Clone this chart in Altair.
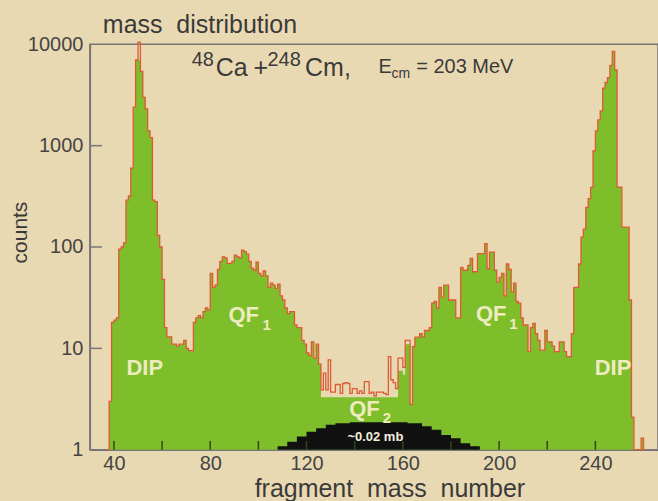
import altair as alt
import pandas as pd

# ---------------- data ----------------
mass_start = 37  # first 1-u bin (left edge)
counts = [
    1, 3, 18, 19, 20, 95, 100, 110, 290, 320,            # 37-46
    600, 2400, 7000, 10500, 5400, 3000, 2300, 1400, 1200, 290,  # 47-56
    280, 130, 100, 48, 16, 13, 13, 11, 11, 10.5,         # 57-66
    11, 11, 12, 10, 9.5, 9.5, 18, 20, 21, 20,            # 67-76
    23, 25, 24, 55, 40, 42, 60, 72, 80, 78,              # 77-86
    69, 69, 72, 83, 80, 78, 93, 90, 85, 72,              # 87-96
    62, 59, 71, 55, 52, 58, 52, 40, 44, 42,              # 97-106
    39, 43, 33, 30, 25, 22, 23, 23, 17, 16,              # 107-116
    16, 12, 11, 9, 8.5, 11.6, 8, 11, 7, 3.9,             # 117-126
    5.7, 3.9, 7.7, 3.7, 3.7, 4.4, 4.4, 3.6, 4.5, 4.6,    # 127-136
    4.5, 3.6, 4.0, 4.0, 3.6, 3.8, 3.6, 4.7, 4.7, 3.6,    # 137-146
    3.7, 3.4, 3.7, 3.7, 3.7, 3.6, 3.5, 8.3, 4.9, 4.6,    # 147-156
    4.0, 8.0, 8.0, 6.5, 12, 12, 2.8, 10.4, 12.9, 12.9,   # 157-166
    14, 13, 15, 15, 16, 28, 29, 25, 40, 32,              # 167-176
    42, 42, 30, 30, 30, 20, 20, 63, 59, 59,              # 177-186
    66, 77, 57, 57, 86, 86, 86, 108, 61, 89,             # 187-196
    89, 59, 45, 50, 55, 33, 68, 60, 36, 44,              # 197-206
    29, 28, 20, 17, 17, 9.3, 16, 17.6, 14, 12,           # 207-216
    9.6, 9.6, 15, 11.6, 11.6, 10.5, 9.3, 9.3, 11.6, 11.6,  # 217-226
    9.3, 8.3, 8.3, 14, 40, 40, 68, 125, 150, 246,        # 227-236
    300, 388, 890, 1400, 1800, 2200, 3700, 4200, 4700, 6200,  # 237-246
    8500, 5600, 390, 390, 157, 157, 157, 30, 2.1, 1,     # 247-256
    1, 1, 1.3, 1,                                        # 257-260
]

# green fill differs from the red outline at the left peak tip and in the QF2 valley
fill_override_mass = [50] + list(range(126, 164))
fill_override_counts = [
    7000,
    3.3, 3.3, 3.3, 3.3, 3.3, 3.3, 3.3, 3.3, 3.3, 3.3,   # 126-135
    3.3, 3.3, 3.3, 3.3, 3.3, 3.3, 3.3, 3.3, 3.3, 3.3,   # 136-145
    3.3, 3.3, 3.3, 3.3, 3.3, 3.3, 3.3, 3.3, 3.3, 3.3,   # 146-155
    3.3, 3.3, 6, 6, 5.5, 11, 11, 2.8,                   # 156-163
]

# black QF2 histogram (~0.02 mb)
qf2_edges = [108, 112, 116, 120, 124, 128, 132, 138, 162, 168, 172, 176, 180, 184, 188, 192]
qf2_counts = [1.08, 1.2, 1.35, 1.5, 1.63, 1.76, 1.82, 1.87, 1.82, 1.7, 1.57, 1.4, 1.3, 1.16, 1.08, 1.08]

x_tick_labels = [40, 80, 120, 160, 200, 240]
x_minor_ticks = [40, 60, 80, 100, 120, 140, 160, 180, 200, 220, 240]
y_tick_values = [1, 10, 100, 1000, 10000]
y_inner_ticks = [10, 100, 1000]

# annotation texts (positions in data units: mass, counts)
big_labels = ["DIP", "DIP", "QF", "QF", "QF"]
big_mass = [52.8, 247.3, 93.9, 196.7, 144.1]
big_counts = [6.43, 6.43, 21.4, 21.9, 2.54]
sub_labels = ["1", "1", "2"]
sub_mass = [103.4, 205.9, 153.4]
sub_counts = [17.1, 17.4, 2.07]

# ---------------- styling ----------------
FONT = "Liberation Sans"
BG = "#E9D9B2"
GREEN = "#7DBE2A"
RED = "#DD5A35"
LABEL = "#EEEBC0"
AXIS_GREY = "#777777"
TEXT = "#3A3A3A"

masses = [mass_start + i for i in range(len(counts))]
hist_df = pd.DataFrame({"mass": masses + [masses[-1] + 1],
                        "counts": counts + [counts[-1]]})
fill_map = dict(zip(masses, counts))
fill_map.update(zip(fill_override_mass, fill_override_counts))
fill_vals = [fill_map[m] for m in masses]
fill_df = pd.DataFrame({"mass": masses + [masses[-1] + 1],
                        "counts": fill_vals + [fill_vals[-1]]})
qf2_df = pd.DataFrame({"mass": qf2_edges, "counts": qf2_counts})

xs = alt.Scale(domain=[30, 266], nice=False, zero=False)
ys = alt.Scale(type="log", domain=[1, 10000], nice=False)

x_enc = alt.X(
    "mass:Q", scale=xs,
    axis=alt.Axis(
        values=x_tick_labels, tickSize=0, grid=False, labelFlush=False, labelOverlap=False,
        labelFont=FONT, labelFontSize=20, labelColor="#444444", labelPadding=4,
        domainColor=AXIS_GREY, domainWidth=1.5,
        title="fragment\u00a0 mass\u00a0 number", titleFont=FONT, titleFontSize=25,
        titleFontWeight="normal", titleColor=TEXT, titleX=300, titleY=47,
        titleBaseline="alphabetic", titleAlign="center",
    ),
)
y_enc = alt.Y(
    "counts:Q", scale=ys,
    axis=alt.Axis(
        values=y_tick_values, format="d", tickSize=0, grid=False, labelFlush=False,
        labelOverlap=False, labelFont=FONT, labelFontSize=20, labelColor="#444444",
        labelPadding=7, domainColor=AXIS_GREY, domainWidth=1.5,
        title="counts", titleFont=FONT, titleFontSize=21, titleFontWeight="normal",
        titleColor=TEXT, titleAngle=270, titleX=-69, titleY=188,
        titleBaseline="middle", titleAlign="center",
    ),
)

green = alt.Chart(fill_df).mark_area(interpolate="step-after", color=GREEN).encode(
    x=x_enc, y=y_enc, y2=alt.datum(1))
red = alt.Chart(hist_df).mark_line(interpolate="step-after", color=RED, strokeWidth=1.3).encode(
    x=x_enc, y=y_enc)
black = alt.Chart(qf2_df).mark_area(interpolate="step-after", color="#111111").encode(
    x=x_enc, y=y_enc, y2=alt.datum(1))

xt_df = pd.DataFrame({"mass": x_minor_ticks})
xticks = alt.Chart(xt_df).mark_rule(color="#2E4A14", strokeWidth=1.5).encode(
    x=x_enc, y=alt.datum(1), y2=alt.datum(1.22))
yt_df = pd.DataFrame({"counts": y_inner_ticks})
yticks = alt.Chart(yt_df).mark_rule(color=AXIS_GREY, strokeWidth=1.5).encode(
    y=y_enc, x=alt.datum(30), x2=alt.datum(35))

big_df = pd.DataFrame({"mass": big_mass, "counts": big_counts, "label": big_labels})
big = alt.Chart(big_df).mark_text(font=FONT, fontSize=22, fontWeight="bold", color=LABEL,
                                  align="center", baseline="middle").encode(
    x=x_enc, y=y_enc, text="label:N")
sub_df = pd.DataFrame({"mass": sub_mass, "counts": sub_counts, "label": sub_labels})
sub = alt.Chart(sub_df).mark_text(font=FONT, fontSize=15, fontWeight="bold", color=LABEL,
                                  align="center", baseline="middle").encode(
    x=x_enc, y=y_enc, text="label:N")

mb_df = pd.DataFrame({"mass": [148.6], "counts": [1.34], "label": ["~0.02 mb"]})
mb = alt.Chart(mb_df).mark_text(font=FONT, fontSize=13, fontWeight="bold", color="#F2EEDC",
                                align="center", baseline="middle").encode(
    x=x_enc, y=y_enc, text="label:N")

# header reaction text
head_big_df = pd.DataFrame({"mass": [82.3, 98.0, 119.4], "counts": [4840, 4840, 4840],
                            "label": ["Ca", "+", "Cm,"]})
head_big = alt.Chart(head_big_df).mark_text(font=FONT, fontSize=25, color=TEXT, align="left",
                                            baseline="alphabetic").encode(
    x=x_enc, y=y_enc, text="label:N")
head_sup_df = pd.DataFrame({"mass": [72.3, 103.8], "counts": [6070, 6070], "label": ["48", "248"]})
head_sup = alt.Chart(head_sup_df).mark_text(font=FONT, fontSize=20, color=TEXT, align="left",
                                            baseline="alphabetic").encode(
    x=x_enc, y=y_enc, text="label:N")
head_e_df = pd.DataFrame({"mass": [149.9, 165.6], "counts": [5180, 5180], "label": ["E", "= 203 MeV"]})
head_e = alt.Chart(head_e_df).mark_text(font=FONT, fontSize=20, color=TEXT, align="left",
                                        baseline="alphabetic").encode(
    x=x_enc, y=y_enc, text="label:N")
head_cm_df = pd.DataFrame({"mass": [155.3], "counts": [4620], "label": ["cm"]})
head_cm = alt.Chart(head_cm_df).mark_text(font=FONT, fontSize=14, color=TEXT, align="left",
                                          baseline="alphabetic").encode(
    x=x_enc, y=y_enc, text="label:N")

title_df = pd.DataFrame({"mass": [35.4], "counts": [12830], "label": ["mass\u00a0 distribution"]})
title = alt.Chart(title_df).mark_text(font=FONT, fontSize=25, color=TEXT, align="left",
                                      baseline="alphabetic").encode(
    x=x_enc, y=y_enc, text="label:N")

chart = alt.layer(
    green, red, black, xticks, yticks, big, sub, mb,
    head_big, head_sup, head_e, head_cm, title,
).properties(
    width=569, height=406,
    autosize=alt.AutoSizeParams(type="none"),
    padding={"left": 90, "top": 44, "right": 0, "bottom": 51},
    background=BG,
).configure_view(stroke=AXIS_GREY, strokeWidth=1.5)

chart.save("out.html", embed_options={"renderer": "svg", "actions": False})
